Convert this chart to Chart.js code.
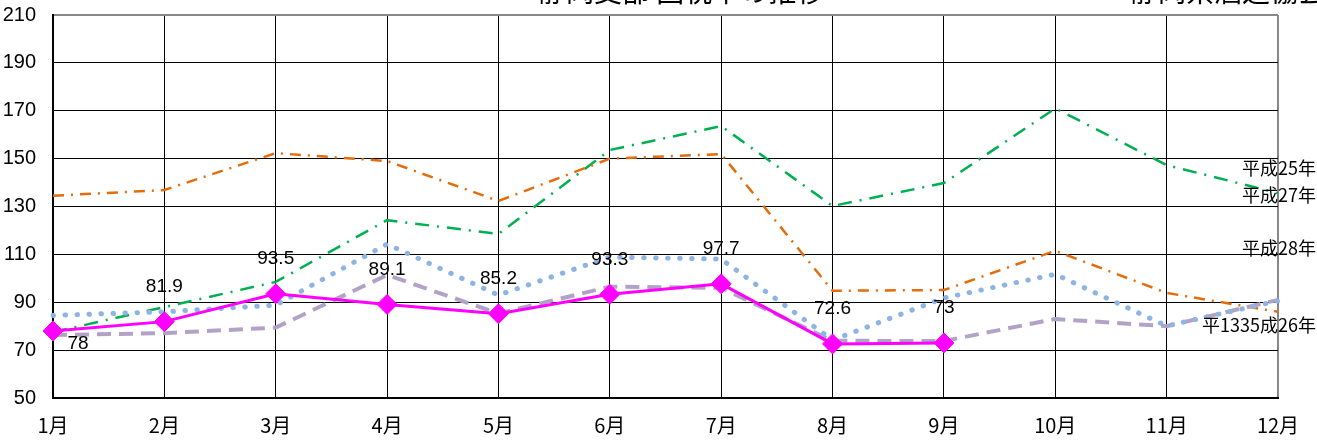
<!DOCTYPE html>
<html lang="ja">
<head>
<meta charset="utf-8">
<script src="https://cdn.jsdelivr.net/npm/chart.js@4.4.1/dist/chart.umd.min.js"></script>
<style>
  html, body { margin: 0; padding: 0; background: #fff; }
  #wrap { width: 1317px; height: 444px; position: relative; }
</style>
</head>
<body>
<div id="wrap"><canvas id="chart"></canvas></div>
<script>
const months = ['1月', '2月', '3月', '4月', '5月', '6月', '7月', '8月', '9月', '10月', '11月', '12月'];
const yTicks = [50, 70, 90, 110, 130, 150, 170, 190, 210];

const h29 = [78, 81.9, 93.5, 89.1, 85.2, 93.3, 97.7, 72.6, 73, null, null, null];
const h27 = [77.5, 88, 98.5, 124.3, 118.5, 153.6, 163.6, 130.2, 139.8, 171, 147.3, 135.6];
const h25 = [134.5, 136.9, 152.3, 149, 132.3, 150, 151.9, 94.8, 95.1, 111.5, 93.9, 86];
const h28 = [84.5, 86, 88.8, 114.3, 93, 108.9, 108, 74.2, 91.8, 101.7, 80.1, 90.6];
const h26 = [76.3, 77.1, 79.4, 101.4, 85.3, 96.5, 96, 73.9, 73.8, 83, 80, 91];

const titleLeft = '静岡支部 国税率の推移';
const titleRight = '静岡県酒造協会';
const sideLabels = ['平成25年', '平成27年', '平成28年', '平1335成26年'];

const jpFont = '"Noto Sans CJK JP", "Noto Sans", sans-serif';
const numFont = '"Liberation Sans", Arial, sans-serif';

// value labels on the magenta line + side labels + cut-off titles
const extrasPlugin = {
  id: 'extras',
  afterDatasetsDraw(chart) {
    const ctx = chart.ctx;
    const meta = chart.getDatasetMeta(0);
    ctx.save();
    ctx.fillStyle = '#000';
    ctx.font = '19px ' + numFont;
    ctx.textAlign = 'center';
    ctx.textBaseline = 'middle';
    h29.forEach((v, i) => {
      if (v === null) return;
      const p = meta.data[i];
      if (i === 0) {
        ctx.fillText(String(v), p.x + 25, p.y + 13);
      } else {
        ctx.fillText(String(v), p.x, p.y - 35);
      }
    });

    ctx.font = '18px ' + jpFont;
    ctx.textAlign = 'left';
    ctx.fillText(sideLabels[0], 1242, 168);
    ctx.fillText(sideLabels[1], 1242, 195);
    ctx.fillText(sideLabels[2], 1242, 248);
    ctx.fillText(sideLabels[3], 1202, 325);

    ctx.font = '28px ' + jpFont;
    ctx.textBaseline = 'alphabetic';
    ctx.fillText(titleLeft, 538, 2);
    ctx.fillText(titleRight, 1130, 2);
    ctx.restore();
  }
};

const ctx = document.getElementById('chart').getContext('2d');
new Chart(ctx, {
  type: 'line',
  data: {
    labels: months,
    datasets: [
      {
        label: '平成29年',
        data: h29,
        borderColor: '#ff00ff',
        backgroundColor: '#ff00ff',
        borderWidth: 3,
        pointStyle: 'rectRot',
        pointRadius: 10,
        pointBorderWidth: 1,
        spanGaps: false
      },
      {
        label: '平成28年',
        data: h28,
        borderColor: '#8db4e2',
        borderWidth: 5,
        borderDash: [0.5, 11.5],
        borderCapStyle: 'round',
        pointRadius: 0
      },
      {
        label: '平成26年',
        data: h26,
        borderColor: '#b3a2c7',
        borderWidth: 4,
        borderDash: [14, 8],
        pointRadius: 0
      },
      {
        label: '平成25年',
        data: h25,
        borderColor: '#e46c0a',
        borderWidth: 2.5,
        borderDash: [11, 7, 2, 7],
        pointRadius: 0
      },
      {
        label: '平成27年',
        data: h27,
        borderColor: '#00b050',
        borderWidth: 2.5,
        borderDash: [14, 8, 2, 8],
        pointRadius: 0
      }
    ]
  },
  options: {
    responsive: true,
    maintainAspectRatio: false,
    animation: false,
    events: [],
    layout: { padding: { top: 2, right: 39, left: 0, bottom: 0 } },
    plugins: {
      legend: { display: false },
      tooltip: { enabled: false }
    },
    scales: {
      x: {
        offset: false,
        grid: {
          drawTicks: true,
          tickLength: 12,
          tickColor: 'transparent',
          color: (c) => c.index === months.length - 1 ? '#888' : '#000',
          lineWidth: (c) => c.index === months.length - 1 ? 2 : 1
        },
        border: { color: '#000', width: 2 },
        ticks: {
          color: '#000',
          padding: 3,
          maxRotation: 0,
          autoSkip: false,
          font: { family: jpFont, size: 20 }
        },
        afterFit(scale) { scale.height = 46; }
      },
      y: {
        min: yTicks[0],
        max: yTicks[yTicks.length - 1],
        afterBuildTicks(scale) { scale.ticks = yTicks.map(v => ({ value: v })); },
        grid: {
          drawTicks: true,
          tickLength: 14,
          tickColor: 'transparent',
          color: (c) => c.tick && c.tick.value === 210 ? '#888' : '#000',
          lineWidth: (c) => c.tick && c.tick.value === 210 ? 2 : 1
        },
        border: { color: '#000', width: 2 },
        ticks: {
          color: '#000',
          padding: 3,
          font: { family: numFont, size: 20 }
        },
        afterFit(scale) { scale.width = 53; }
      }
    }
  },
  plugins: [extrasPlugin]
});
</script>
</body>
</html>
